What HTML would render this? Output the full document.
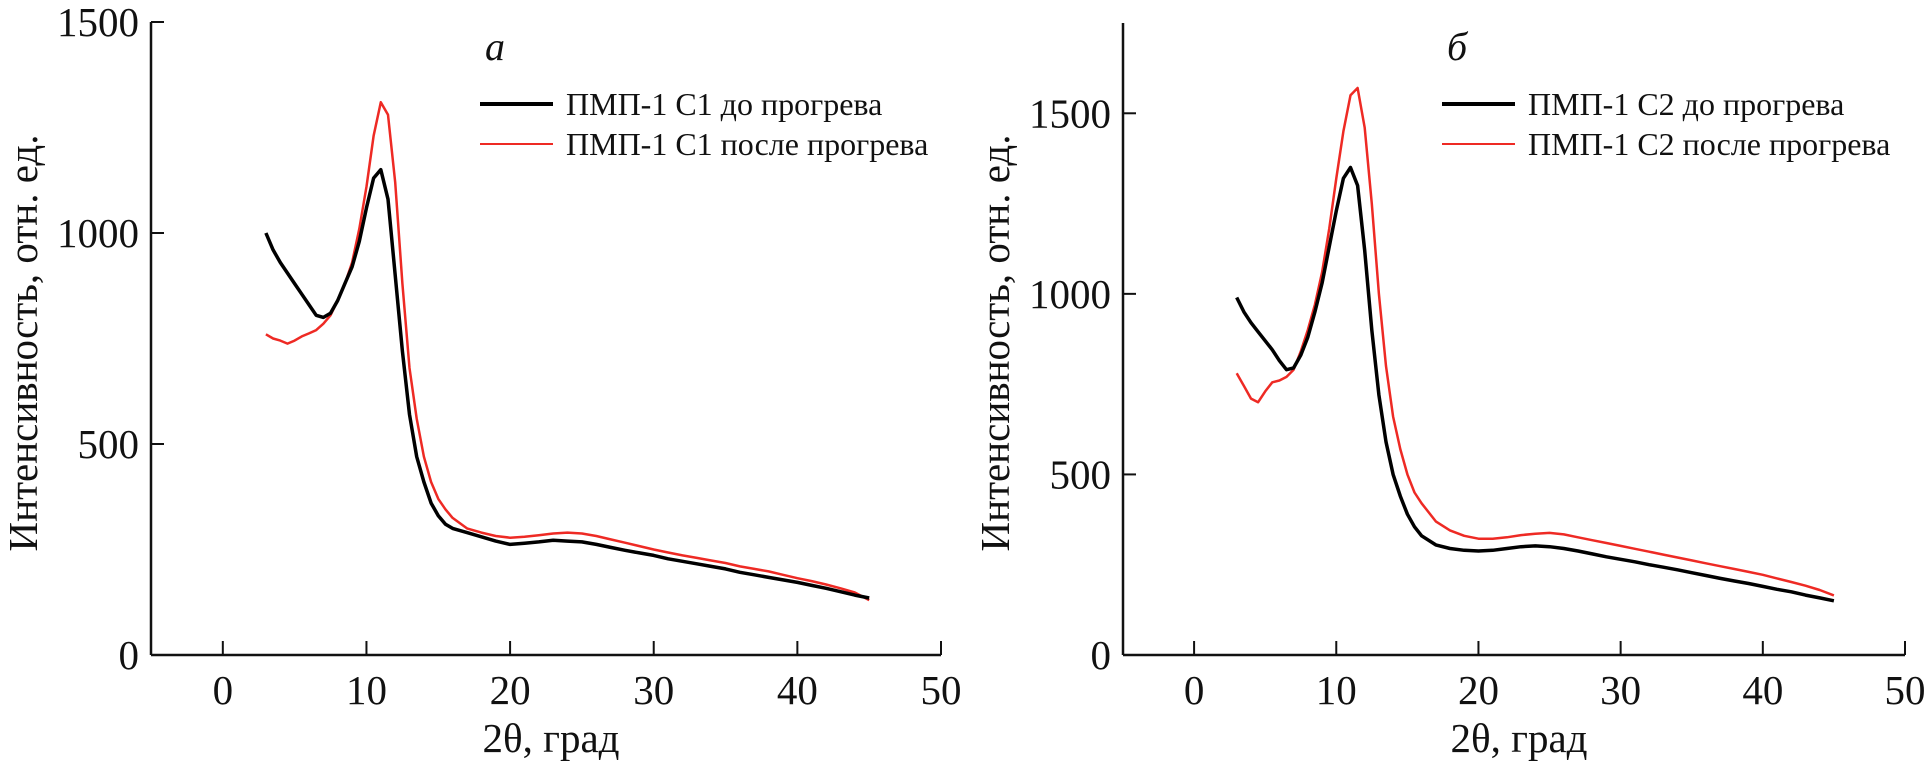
<!DOCTYPE html>
<html><head><meta charset="utf-8">
<style>
html,body{margin:0;padding:0;background:#fff;}
svg{display:block;font-family:"Liberation Serif","DejaVu Serif",serif;}
</style></head>
<body>
<svg id="chart" width="1924" height="763" viewBox="0 0 1924 763" xmlns="http://www.w3.org/2000/svg"></svg>
<script>
const xs = [3,3.5,4,4.5,5,5.5,6,6.5,7,7.5,8,8.5,9,9.5,10,10.5,11,11.5,12,12.5,13,13.5,14,14.5,15,15.5,16,17,18,19,20,21,22,23,24,25,26,27,28,29,30,31,32,33,34,35,36,37,38,39,40,41,42,43,44,45];
const c1Before = [1000,960,930,905,880,855,830,805,800,810,840,880,920,980,1060,1130,1150,1080,900,720,570,470,410,360,330,310,300,290,280,270,262,265,268,272,270,268,262,255,248,242,236,228,222,216,210,204,196,190,184,178,172,165,158,150,142,135];
const c1After = [760,750,745,738,745,755,762,770,785,805,840,880,930,1010,1110,1230,1310,1280,1120,880,680,560,470,410,370,345,325,300,290,282,278,280,284,288,290,288,282,274,266,258,250,243,236,230,224,218,210,204,198,190,182,175,167,158,148,130];
const c2Before = [990,950,920,895,870,845,815,790,795,830,880,950,1030,1130,1230,1320,1350,1300,1120,900,720,590,500,440,390,355,330,305,295,290,288,290,295,300,302,300,295,288,280,272,265,258,250,243,236,228,220,212,205,198,190,182,175,166,158,150];
const c2After = [780,745,710,700,730,755,760,770,790,840,900,970,1060,1180,1320,1450,1550,1570,1460,1250,1000,800,660,570,500,450,420,370,345,330,322,322,326,332,336,338,334,326,318,310,302,294,286,278,270,262,254,246,238,230,222,212,202,192,180,165];
const xTicks = [0,10,20,30,40,50];
const yTicksA = [0,500,1000,1500];
const yTicksB = [0,500,1000,1500];
const legendA = ["ПМП-1 С1 до прогрева","ПМП-1 С1 после прогрева"];
const legendB = ["ПМП-1 С2 до прогрева","ПМП-1 С2 после прогрева"];

const NS="http://www.w3.org/2000/svg";
const svg=document.getElementById('chart');
function el(tag,attrs,parent,text){const e=document.createElementNS(NS,tag);for(const k in attrs)e.setAttribute(k,attrs[k]);if(text!==undefined)e.textContent=text;(parent||svg).appendChild(e);return e;}

function panel(cfg){
  const g=el('g',{});
  
  
  const X=v=>cfg.x0+(v-cfg.xmin)*(cfg.x1-cfg.x0)/(cfg.xmax-cfg.xmin);
  const Y=v=>cfg.y0-(v)*(cfg.y0-cfg.ytop)/cfg.ymax;
  const axX=X(cfg.xmin), axY=Y(0);
  const ya=el('line',{x1:axX,y1:Y(cfg.ymax),x2:axX,y2:axY,stroke:'#111','stroke-width':2.5},g);
  
  const xa=el('line',{x1:axX,y1:axY,x2:X(cfg.xmax),y2:axY,stroke:'#111','stroke-width':2.5},g);
  
  xTicks.forEach(t=>{
    el('line',{x1:X(t),y1:axY,x2:X(t),y2:axY-14,stroke:'#111','stroke-width':2},g);
    const tl=el('text',{x:X(t),y:704,'font-size':41,'text-anchor':'middle',fill:'#111'},g,String(t));
    
  });
  cfg.yTicks.forEach(t=>{
    el('line',{x1:axX,y1:Y(t),x2:axX+13,y2:Y(t),stroke:'#111','stroke-width':2},g);
    const tl=el('text',{x:axX-12,y:Y(t)+14,'font-size':41,'text-anchor':'end',fill:'#111'},g,String(t));
    
  });
  const xt=el('text',{x:(axX+X(cfg.xmax))/2+5,y:752,'font-size':41,'text-anchor':'middle',fill:'#111'},g,'2θ, град');
  
  const yt=el('text',{x:0,y:0,'font-size':41,'text-anchor':'middle',fill:'#111',transform:`translate(${axX-114},343) rotate(-90)`},g,'Интенсивность, отн. ед.');
  
  const pl=el('text',{x:cfg.lx+5,y:60,'font-size':40,'font-style':'italic',fill:'#111'},g,cfg.label);
  
  function line(vals){let d='';for(let i=0;i<xs.length;i++){d+=(i===0?'M':'L')+X(xs[i]).toFixed(1)+' '+Y(vals[i]).toFixed(1);}return d;}
  const rp=el('path',{d:line(cfg.after),fill:'none',stroke:'#ee2a24','stroke-width':2.5,'stroke-linejoin':'round'},g);
  
  const bp=el('path',{d:line(cfg.before),fill:'none',stroke:'#000','stroke-width':3.5,'stroke-linejoin':'round'},g);
  
  const lg=el('g',{},g);
  
  const e1=el('g',{},lg);
  el('line',{x1:cfg.lx,y1:104,x2:cfg.lx+73,y2:104,stroke:'#000','stroke-width':4},e1);
  el('text',{x:cfg.lx+86,y:115,'font-size':32,fill:'#111'},e1,cfg.legend[0]);
  const e2=el('g',{},lg);
  el('line',{x1:cfg.lx,y1:144,x2:cfg.lx+73,y2:144,stroke:'#ee2a24','stroke-width':2},e2);
  el('text',{x:cfg.lx+86,y:155,'font-size':32,fill:'#111'},e2,cfg.legend[1]);
}
panel({name:'panel-a',x0:151,x1:941,xmin:-5,xmax:50,y0:655,ytop:22,ymax:1500,yTicks:yTicksA,before:c1Before,after:c1After,legend:legendA,label:'а',lx:480});
panel({name:'panel-b',x0:1123,x1:1905,xmin:-5,xmax:50,y0:655,ytop:23,ymax:1750,yTicks:yTicksB,before:c2Before,after:c2After,legend:legendB,label:'б',lx:1442});
</script>
</body></html>
